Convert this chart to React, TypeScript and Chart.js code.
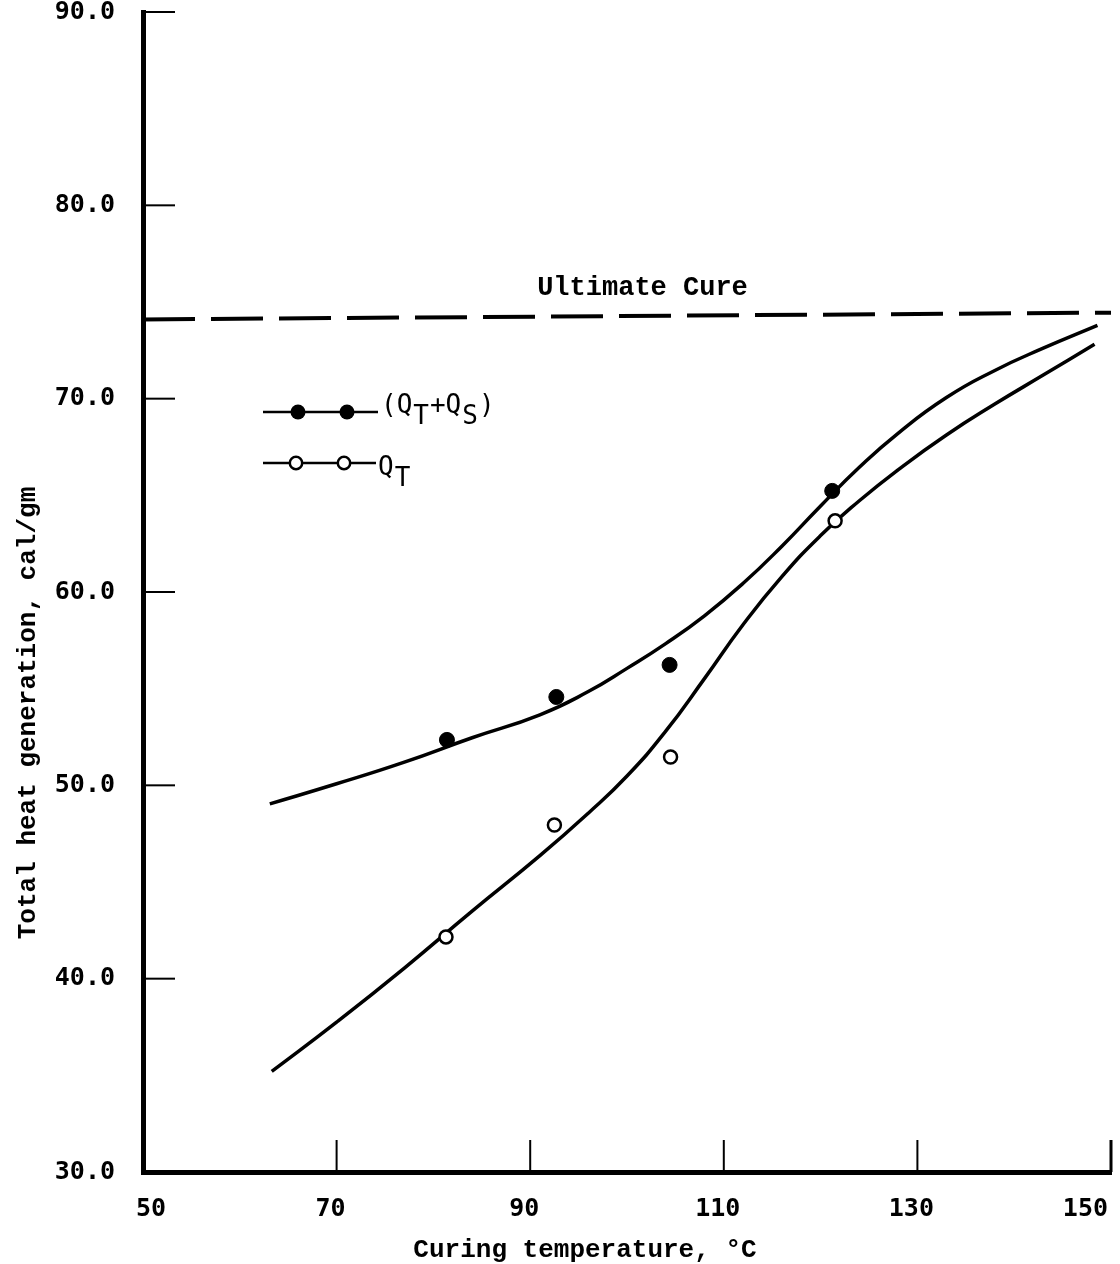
import React, { useEffect, useRef } from "react";
import { Chart, registerables } from "chart.js";

Chart.register(...registerables);

// Axis ticks
const xTickValues = [50, 70, 90, 110, 130, 150];
const yTickValues = [30, 40, 50, 60, 70, 80, 90];

// Measured points: (QT + QS), filled circles
const totalTemp = [81.4, 92.7, 104.4, 121.2];
const totalHeat = [52.35, 54.57, 56.23, 65.23];

// Measured points: QT, open circles
const qtTemp = [81.3, 92.5, 104.5, 121.5];
const qtHeat = [42.16, 47.95, 51.47, 63.68];

// Fitted curve through (QT + QS)
const upperCurveTemp = [63.1, 70, 77, 84, 91, 96, 100, 104, 108, 112, 116, 120, 124, 128, 133, 138, 143, 148.6];
const upperCurveHeat = [49.04, 50.08, 51.2, 52.46, 53.65, 54.85, 56.05, 57.33, 58.77, 60.45, 62.37, 64.45, 66.45, 68.21, 70.06, 71.46, 72.61, 73.79];

// Fitted curve through QT
const lowerCurveTemp = [63.3, 70, 77, 84, 91, 96, 100, 104, 108, 112, 116, 120, 124, 128, 133, 138, 143, 148.3];
const lowerCurveHeat = [35.2, 37.75, 40.55, 43.49, 46.36, 48.56, 50.48, 52.8, 55.52, 58.32, 60.8, 62.92, 64.72, 66.32, 68.12, 69.72, 71.22, 72.81];

// Ultimate cure level (dashed)
const ultimateTemp = [50, 150];
const ultimateHeat = [74.1, 74.45];

const ultimateLabel = "Ultimate Cure";
const ultimateLabelAt = [101.6, 75.7];
const xTitle = "Curing temperature, °C";
const yTitle = "Total heat generation, cal/gm";

const zip = (xs: number[], ys: number[]) => xs.map((x, i) => ({ x, y: ys[i] }));

const TICK_FONT = "DejaVu Sans Mono";
const TITLE_FONT = "Liberation Mono";

const decorPlugin = {
  id: "decor",
  afterDraw(chart: any) {
    const { ctx, scales } = chart;
    const xs = scales.x;
    const ys = scales.y;
    const area = chart.chartArea;
    ctx.save();
    ctx.strokeStyle = "#000";
    ctx.fillStyle = "#000";

    // y ticks (pointing into plot)
    ctx.lineWidth = 2;
    yTickValues.forEach((v) => {
      if (v === 30) return;
      const py = ys.getPixelForValue(v);
      ctx.beginPath();
      ctx.moveTo(area.left, py);
      ctx.lineTo(area.left + 32, py);
      ctx.stroke();
    });
    // x ticks (pointing up into plot)
    xTickValues.forEach((v) => {
      if (v === 50) return;
      const px = xs.getPixelForValue(v);
      ctx.lineWidth = v === 150 ? 3 : 2;
      ctx.beginPath();
      ctx.moveTo(px, area.bottom);
      ctx.lineTo(px, area.bottom - 32);
      ctx.stroke();
    });

    // x tick labels (kept inside the canvas)
    ctx.font = `bold 25px "${TICK_FONT}"`;
    ctx.textAlign = "center";
    ctx.textBaseline = "middle";
    xTickValues.forEach((v) => {
      const label = String(v);
      const w = ctx.measureText(label).width;
      let cx = xs.getPixelForValue(v) - 6;
      if (cx + w / 2 > chart.width - 12) cx = chart.width - 12 - w / 2;
      if (cx - w / 2 < 136) cx = 136 + w / 2;
      ctx.fillText(label, cx, area.bottom + 37);
    });

    // Ultimate cure label
    ctx.font = `bold 27px "${TITLE_FONT}"`;
    ctx.textAlign = "center";
    ctx.textBaseline = "middle";
    ctx.fillText(ultimateLabel, xs.getPixelForValue(ultimateLabelAt[0]), ys.getPixelForValue(ultimateLabelAt[1]));

    // Axis titles
    ctx.font = `bold 26px "${TITLE_FONT}"`;
    ctx.fillText(xTitle, 585, 1250);
    ctx.save();
    ctx.translate(28, 713);
    ctx.rotate(-Math.PI / 2);
    ctx.fillText(yTitle, 0, 0);
    ctx.restore();

    // Legend
    ctx.lineWidth = 2.5;
    ctx.beginPath();
    ctx.moveTo(263, 412);
    ctx.lineTo(378, 412);
    ctx.stroke();
    [298, 347].forEach((cx) => {
      ctx.beginPath();
      ctx.arc(cx, 412, 7.5, 0, Math.PI * 2);
      ctx.fill();
    });
    ctx.beginPath();
    ctx.moveTo(263, 463);
    ctx.lineTo(376, 463);
    ctx.stroke();
    [296, 344].forEach((cx) => {
      ctx.beginPath();
      ctx.arc(cx, 463, 6.2, 0, Math.PI * 2);
      ctx.fillStyle = "#fff";
      ctx.fill();
      ctx.stroke();
    });
    ctx.fillStyle = "#000";

    const drawParts = (parts: [string, boolean][], x: number, y: number) => {
      ctx.font = `26px "${TICK_FONT}"`;
      ctx.textAlign = "left";
      ctx.textBaseline = "middle";
      let cx = x;
      parts.forEach(([t, sub]) => {
        ctx.fillText(t, cx, sub ? y + 11 : y);
        cx += ctx.measureText(t).width + 1;
      });
    };
    drawParts([["(Q", false], ["T", true], ["+Q", false], ["S", true], [")", false]], 381, 406);
    drawParts([["Q", false], ["T", true]], 378, 468);

    ctx.restore();
  },
};

export default function App() {
  const ref = useRef<HTMLCanvasElement | null>(null);

  useEffect(() => {
    if (!ref.current) return;
    const chart = new Chart(ref.current, {
      type: "scatter",
      data: {
        datasets: [
          {
            label: "(QT+QS)",
            data: zip(totalTemp, totalHeat),
            showLine: false,
            pointRadius: 7.5,
            pointBackgroundColor: "#000",
            pointBorderColor: "#000",
            pointBorderWidth: 1,
          },
          {
            label: "QT",
            data: zip(qtTemp, qtHeat),
            showLine: false,
            pointRadius: 6.5,
            pointBackgroundColor: "#fff",
            pointBorderColor: "#000",
            pointBorderWidth: 2.5,
          },
          {
            label: "QT+QS curve",
            data: zip(upperCurveTemp, upperCurveHeat),
            showLine: true,
            pointRadius: 0,
            borderColor: "#000",
            borderWidth: 3.5,
            tension: 0.5,
          },
          {
            label: "QT curve",
            data: zip(lowerCurveTemp, lowerCurveHeat),
            showLine: true,
            pointRadius: 0,
            borderColor: "#000",
            borderWidth: 3.5,
            tension: 0.5,
          },
          {
            label: "Ultimate Cure",
            data: zip(ultimateTemp, ultimateHeat),
            showLine: true,
            pointRadius: 0,
            borderColor: "#000",
            borderWidth: 4,
            borderDash: [52, 16],
          },
        ],
      } as any,
      options: {
        responsive: false,
        animation: false,
        devicePixelRatio: 1,
        layout: { padding: { left: 0, top: 12, right: 9, bottom: 0 } },
        plugins: {
          legend: { display: false },
          tooltip: { enabled: false },
          title: { display: false },
        },
        scales: {
          x: {
            type: "linear",
            min: 50,
            max: 150,
            grid: { display: false },
            border: { display: true, color: "#000", width: 5 },
            afterBuildTicks: (s: any) => {
              s.ticks = xTickValues.map((v) => ({ value: v }));
            },
            ticks: { display: false },
            afterFit: (s: any) => {
              s.height = 92;
              s.paddingLeft = 0;
              s.paddingRight = 0;
            },
          },
          y: {
            type: "linear",
            min: 30,
            max: 90,
            grid: { display: false },
            border: { display: true, color: "#000", width: 5 },
            afterBuildTicks: (s: any) => {
              s.ticks = yTickValues.map((v) => ({ value: v }));
            },
            ticks: {
              color: "#000",
              padding: 20,
              autoSkip: false,
              font: { family: TICK_FONT, size: 25, weight: "bold" },
              callback: (v: any) => Number(v).toFixed(1),
            },
            afterFit: (s: any) => {
              s.width = 143;
              s.paddingTop = 0;
              s.paddingBottom = 0;
            },
          },
        },
      } as any,
      plugins: [decorPlugin],
    });
    return () => chart.destroy();
  }, []);

  return (
    <div style={{ position: "fixed", left: 0, top: 0, width: 1120, height: 1264, background: "#fff" }}>
      <canvas ref={ref} width={1120} height={1264} style={{ display: "block" }} />
    </div>
  );
}
